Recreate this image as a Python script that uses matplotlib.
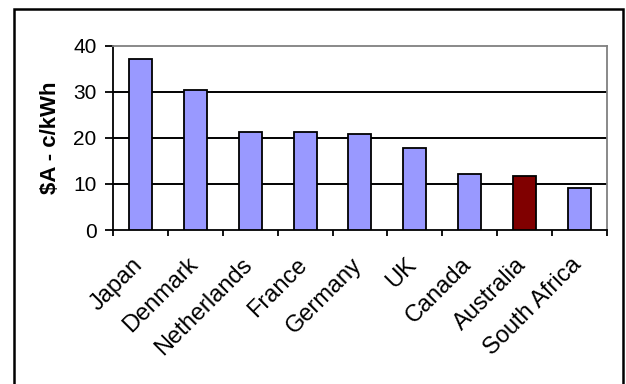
import numpy as np
import matplotlib
matplotlib.use("Agg")
import matplotlib.pyplot as plt
import matplotlib.transforms as mtransforms
from matplotlib.patches import Rectangle

plt.rcParams["font.family"] = ["Liberation Sans", "DejaVu Sans"]

# electricity prices by country
countries = ["Japan", "Denmark", "Netherlands", "France", "Germany", "UK",
             "Canada", "Australia", "South Africa"]
prices = [37.2, 30.4, 21.2, 21.2, 20.8, 17.9, 12.1, 11.7, 9.2]
highlight = "Australia"

bar_color = "#9999FF"
highlight_color = "#800000"

fig = plt.figure(figsize=(6.26, 3.84), dpi=100)
ax = fig.add_axes([0.181, 0.401, 0.788, 0.480])

x = np.arange(len(countries))
colors = [highlight_color if c == highlight else bar_color for c in countries]
ax.bar(x, prices, width=0.42, color=colors, edgecolor="black", linewidth=1.3, zorder=3)

ax.set_xlim(-0.5, len(countries) - 0.5)
ax.set_ylim(0, 40)
ax.set_yticks([0, 10, 20, 30, 40])
ax.tick_params(axis="y", labelsize=15, length=6, width=1.3, direction="out", pad=6)

# category boundaries get the tick marks, labels sit at bar centres
ax.set_xticks(x)
ax.set_xticklabels(countries, rotation=45, ha="right", va="top",
                   rotation_mode="anchor", fontsize=17)
ax.tick_params(axis="x", length=0, pad=12)
shift = mtransforms.ScaledTranslation(-9 / 100, -7 / 100, fig.dpi_scale_trans)
for lbl in ax.get_xticklabels():
    lbl.set_transform(lbl.get_transform() + shift)
ax.set_xticks(np.arange(-0.5, len(countries)), minor=True)
ax.tick_params(axis="x", which="minor", length=4.5, width=1.3, direction="out")

for y in [10, 20, 30]:
    ax.axhline(y, color="black", linewidth=1.4, zorder=1)

for side in ["top", "right"]:
    ax.spines[side].set_color("#808080")
    ax.spines[side].set_linewidth(1.3)
for side in ["left", "bottom"]:
    ax.spines[side].set_color("black")
    ax.spines[side].set_linewidth(1.3)

ax.set_ylabel("$A - c/kWh", fontsize=16, fontweight="bold", labelpad=9)

# outer frame around the whole chart
fig.patches.append(Rectangle((13.5 / 626, -0.05), (623 - 13.5) / 626, 1.05 - 8.5 / 384,
                             transform=fig.transFigure, fill=False,
                             edgecolor="black", linewidth=1.8))

fig.savefig("out.png", dpi=100)
